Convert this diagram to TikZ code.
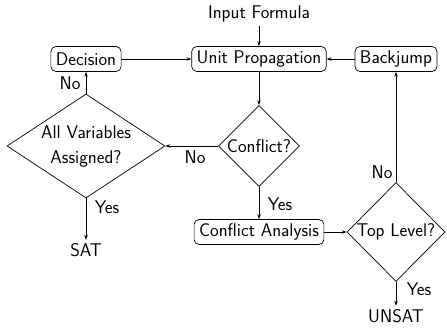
\documentclass[tikz,border=0pt]{standalone}
\usetikzlibrary{shapes.geometric,arrows.meta}
\begin{document}
\begin{tikzpicture}[x=1pt,y=-1pt,
  every node/.style={font=\sffamily\fontsize{18.4}{22}\selectfont},
  box/.style={draw,rounded corners=5pt,minimum height=25pt,inner xsep=5pt,inner ysep=2pt,line width=0.7pt},
  decide/.style={draw,diamond,inner sep=-8pt,line width=0.7pt,align=center},
  conn/.style={line width=0.7pt,-{Stealth[length=5pt,width=3.5pt]}},
  lbl/.style={inner sep=1pt}]
\useasboundingbox (0,0) rectangle (447,327);
\node (in) at (259,14) {Input Formula};
\node[box] (up) at (259,59) {Unit Propagation};
\node[box] (dec) at (86,59) {Decision};
\node[box] (bj) at (396,59) {Backjump};
\node[decide,minimum width=81pt,minimum height=81pt] (cf) at (259,146) {Conflict?};
\node[decide,minimum width=158pt,minimum height=104pt] (av) at (86,146) {All Variables\\[3pt]Assigned?};
\node (sat) at (86,250) {SAT};
\node[box] (ca) at (259,232) {Conflict Analysis};
\node[decide,minimum width=98pt,minimum height=99pt] (tl) at (396,232) {Top Level?};
\node (unsat) at (396,316) {UNSAT};
\draw[conn] (in) -- (up);
\draw[conn] (dec) -- (up);
\draw[conn] (bj) -- (up);
\draw[conn] (up) -- (cf);
\draw[conn] (cf.west) -- (av.east);
\draw[conn] (av.north) -- (dec);
\draw[conn] (av.south) -- (sat);
\draw[conn] (cf.south) -- (ca);
\draw[conn] (ca) -- (tl.west);
\draw[conn] (tl.north) -- (bj);
\draw[conn] (tl.south) -- (unsat);
\node[lbl] (l1) at (70,83) {No};
\node[lbl] (l2) at (195,157) {No};
\node[lbl] (l3) at (107,207) {Yes};
\node[lbl] (l4) at (280,204) {Yes};
\node[lbl] (l5) at (382,172) {No};
\node[lbl] (l6) at (419,289) {Yes};
\end{tikzpicture}
\end{document}
